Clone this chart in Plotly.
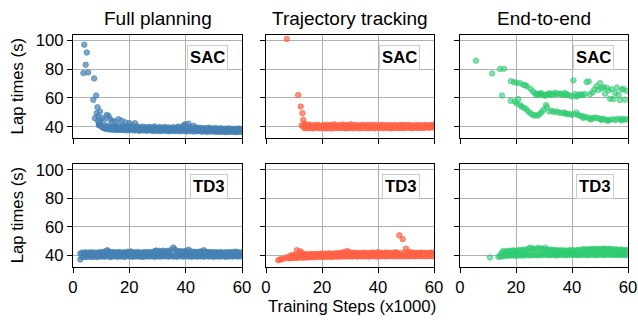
import plotly.graph_objects as go
from plotly.subplots import make_subplots

# ---------------- data ----------------
col_titles = ["Full planning", "Trajectory tracking", "End-to-end"]
row_algos = ["SAC", "TD3"]
x_ticks = [0, 20, 40, 60]
y_ticks = [40, 60, 80, 100]

# Full planning / SAC
fp_sac_early_x = [3.7, 4.0, 4.5, 4.9, 5.4, 7.5, 7.2, 8.2, 8.4, 8.7,
                  7.8, 9.0, 9.6, 10.3, 11.0, 12.0, 12.6, 13.2, 14.0, 15.0,
                  16.1, 17.3, 18.5, 20.0, 22.0, 8.9, 9.3]
fp_sac_early_y = [77.3, 97.1, 83.1, 91.7, 77.8, 73.6, 58.7, 61.7, 49.4, 53.6,
                  45.9, 47.0, 50.5, 46.0, 44.5, 48.2, 47.5, 45.2, 44.0, 43.5,
                  45.2, 44.2, 43.0, 42.5, 42.4, 44.0, 42.5]
fp_sac_x = [9.2, 9.8, 10.4, 11.0, 11.6, 12.2, 12.8, 13.4, 14.0, 14.6,
            15.2, 15.8, 16.4, 17.0, 17.6, 18.2, 18.8, 19.4, 20.0, 20.6,
            21.2, 21.8, 22.4, 23.0, 23.6, 24.2, 24.8, 25.4, 26.0, 26.6,
            27.2, 27.8, 28.4, 29.0, 29.6, 30.2, 30.8, 31.4, 32.0, 32.6,
            33.2, 33.8, 34.4, 35.0, 35.6, 36.2, 36.8, 37.4, 38.0, 38.6,
            39.2, 39.8, 40.4, 41.0, 41.6, 42.2, 42.8, 43.4, 44.0, 44.6,
            45.2, 45.8, 46.4, 47.0, 47.6, 48.2, 48.8, 49.4, 50.0, 50.6,
            51.2, 51.8, 52.4, 53.0, 53.6, 54.2, 54.8, 55.4, 56.0, 56.6,
            57.2, 57.8, 58.4, 59.0, 59.6]
fp_sac_hi = [41.0, 40.6, 40.2, 39.8, 40.5, 39.6, 40.9, 39.4, 40.1, 39.7,
             40.3, 39.5, 40.8, 39.2, 39.9, 40.4, 39.1, 39.8, 40.2, 39.3,
             40.6, 39.0, 39.7, 40.1, 38.9, 39.5, 40.0, 38.8, 39.6, 39.2,
             39.9, 38.7, 39.4, 40.2, 38.9, 39.1, 39.7, 38.6, 39.3, 39.8,
             38.8, 39.5, 39.0, 38.6, 39.7, 38.9, 39.2, 40.1, 38.7, 39.4,
             40.8, 41.6, 39.5, 42.1, 39.8, 39.0, 40.6, 38.9, 39.4, 38.7,
             39.2, 38.6, 39.0, 38.4, 38.9, 39.3, 38.5, 38.8, 38.3, 39.0,
             38.6, 38.2, 38.9, 38.4, 38.0, 38.7, 38.3, 38.8, 38.1, 38.5,
             38.0, 38.6, 38.2, 38.7, 38.3]
fp_sac_lo = [41.5, 40.8, 39.5, 38.9, 38.6, 38.2, 38.5, 37.9, 38.3, 37.8,
             38.1, 37.6, 38.4, 37.7, 38.0, 37.5, 38.2, 37.4, 37.9, 37.6,
             38.0, 37.3, 37.8, 37.5, 37.1, 37.7, 37.4, 37.9, 37.2, 37.6,
             37.3, 37.8, 37.0, 37.5, 37.2, 37.7, 36.9, 37.4, 37.1, 37.6,
             37.2, 36.8, 37.5, 37.0, 37.3, 36.9, 37.6, 37.1, 36.8, 37.4,
             37.0, 37.5, 36.7, 37.2, 36.9, 37.4, 36.6, 37.1, 36.8, 37.3,
             36.9, 36.5, 37.2, 36.8, 36.4, 37.0, 36.6, 37.1, 36.5, 36.9,
             36.4, 36.8, 36.3, 36.9, 36.5, 36.2, 36.7, 36.4, 36.8, 36.3,
             36.6, 36.2, 36.7, 36.4, 36.5]

# Trajectory tracking / SAC
tt_sac_early_x = [7.4, 11.5, 12.4, 13.0, 13.3, 12.7, 13.8]
tt_sac_early_y = [101.1, 62.0, 54.0, 49.4, 44.7, 40.8, 42.0]
tt_sac_x = [13.6, 14.2, 14.8, 15.4, 16.0, 16.6, 17.2, 17.8, 18.4, 19.0,
            19.6, 20.2, 20.8, 21.4, 22.0, 22.6, 23.2, 23.8, 24.4, 25.0,
            25.6, 26.2, 26.8, 27.4, 28.0, 28.6, 29.2, 29.8, 30.4, 31.0,
            31.6, 32.2, 32.8, 33.4, 34.0, 34.6, 35.2, 35.8, 36.4, 37.0,
            37.6, 38.2, 38.8, 39.4, 40.0, 40.6, 41.2, 41.8, 42.4, 43.0,
            43.6, 44.2, 44.8, 45.4, 46.0, 46.6, 47.2, 47.8, 48.4, 49.0,
            49.6, 50.2, 50.8, 51.4, 52.0, 52.6, 53.2, 53.8, 54.4, 55.0,
            55.6, 56.2, 56.8, 57.4, 58.0, 58.6, 59.2, 59.8]
tt_sac_hi = [40.6, 41.2, 40.4, 41.5, 40.8, 40.3, 41.1, 40.5, 41.3, 40.7,
             40.2, 41.0, 40.6, 41.4, 40.4, 40.9, 41.2, 40.5, 41.6, 40.8,
             40.3, 41.1, 40.7, 41.5, 40.4, 41.3, 40.6, 41.0, 41.7, 40.5,
             40.9, 41.2, 40.4, 41.0, 40.7, 41.3, 40.5, 40.9, 41.1, 40.4,
             41.4, 40.6, 40.9, 41.2, 40.5, 41.0, 40.7, 41.3, 40.6, 40.9,
             41.1, 40.4, 41.0, 40.7, 41.2, 40.5, 40.8, 41.1, 40.6, 41.3,
             40.5, 40.9, 41.2, 40.6, 41.0, 40.4, 40.8, 41.1, 40.7, 41.0,
             40.5, 40.9, 41.2, 40.6, 40.9, 41.1, 40.7, 41.3]
tt_sac_lo = [39.2, 38.9, 39.5, 39.0, 39.4, 38.8, 39.3, 39.6, 39.0, 39.4,
             38.9, 39.5, 39.1, 38.8, 39.4, 39.2, 38.7, 39.5, 39.0, 39.3,
             39.6, 38.9, 39.2, 39.5, 39.0, 38.8, 39.4, 39.1, 39.6, 38.9,
             39.3, 39.0, 39.5, 38.8, 39.2, 39.6, 39.0, 39.4, 38.9, 39.3,
             39.1, 39.5, 38.8, 39.2, 39.6, 39.0, 39.4, 38.9, 39.3, 39.5,
             39.0, 39.4, 38.8, 39.2, 39.6, 39.1, 39.3, 38.9, 39.5, 39.2,
             39.0, 39.4, 39.6, 39.1, 38.9, 39.5, 39.2, 39.6, 39.0, 39.3,
             39.5, 39.1, 39.4, 39.7, 39.2, 39.5, 39.8, 39.4]

# End-to-end / SAC (two branches)
e2e_sac_up_x = [5.7, 11.5, 14.3, 15.7, 18.2, 19.3, 20.2, 21.4, 22.6, 23.3,
                24.0, 25.2, 26.0, 26.8, 27.7, 28.6, 29.5, 30.4, 31.2, 32.1,
                33.0, 33.9, 34.8, 35.7, 36.6, 37.4, 38.1, 39.0, 39.8, 40.5,
                41.2, 42.0, 42.9, 43.8, 44.6, 45.2, 46.0, 46.4, 47.3, 48.0,
                48.8, 49.4, 50.0, 50.6, 51.2, 51.8, 52.4, 53.0, 53.6, 54.2,
                54.8, 55.4, 56.0, 56.6, 57.1, 57.8, 58.3, 58.9, 59.5, 41.5,
                27.2, 28.1, 29.0, 30.0, 31.7, 32.6, 34.3, 36.2, 37.8, 43.3]
e2e_sac_up_y = [86.0, 77.1, 80.1, 80.3, 71.7, 71.0, 70.6, 70.3, 69.2, 68.8,
                68.0, 66.4, 64.5, 63.3, 62.8, 63.0, 62.2, 61.5, 62.6, 63.3,
                62.4, 63.7, 62.9, 63.0, 62.1, 63.5, 62.5, 61.8, 61.1, 72.2,
                62.7, 61.6, 62.5, 61.9, 62.8, 71.1, 71.5, 62.5, 63.8, 66.0,
                68.2, 65.5, 70.3, 66.8, 67.6, 63.0, 67.1, 65.2, 59.5, 66.1,
                59.2, 63.5, 67.2, 62.0, 58.5, 65.8, 66.4, 58.8, 65.0, 61.0,
                62.0, 62.3, 63.2, 62.0, 62.7, 62.3, 62.6, 62.8, 62.4, 62.3]
e2e_sac_lo_x = [15.0, 18.1, 19.6, 20.2, 20.8, 21.5, 22.0, 22.8, 23.6, 24.3,
                25.1, 25.8, 26.5, 27.2, 27.9, 28.6, 29.2, 29.8, 30.7, 31.0,
                31.9, 32.8, 33.6, 34.5, 35.4, 36.3, 37.2, 38.1, 39.0, 39.8,
                40.6, 41.5, 42.1, 42.7, 43.6, 44.5, 45.4, 46.2, 47.0, 47.8,
                48.6, 49.4, 50.2, 51.0, 51.8, 52.7, 53.5, 54.6, 55.4, 56.3,
                57.2, 58.1, 59.0, 59.7, 44.0, 46.8, 50.6, 53.0, 57.7, 37.6]
e2e_sac_lo_y = [61.7, 58.0, 57.5, 56.3, 59.2, 55.0, 54.0, 53.2, 52.3, 50.8,
                49.4, 48.5, 47.7, 47.9, 47.7, 49.0, 50.3, 51.7, 55.0, 53.6,
                50.6, 51.1, 50.2, 50.5, 49.8, 49.4, 49.9, 48.8, 48.9, 48.3,
                48.6, 49.9, 48.2, 47.7, 47.3, 46.9, 46.5, 45.5, 46.0, 46.2,
                46.2, 45.8, 45.2, 45.5, 45.0, 44.1, 44.8, 45.2, 44.6, 45.5,
                45.0, 45.5, 44.8, 45.3, 46.0, 45.0, 44.6, 44.5, 44.3, 49.2]

# Full planning / TD3
fp_td3_x = [2.6, 3.2, 3.8, 4.4, 5.0, 5.6, 6.2, 6.8, 7.4, 8.0,
            8.6, 9.2, 9.8, 10.4, 11.0, 11.6, 12.2, 12.8, 13.4, 14.0,
            14.6, 15.2, 15.8, 16.4, 17.0, 17.6, 18.2, 18.8, 19.4, 20.0,
            20.6, 21.2, 21.8, 22.4, 23.0, 23.6, 24.2, 24.8, 25.4, 26.0,
            26.6, 27.2, 27.8, 28.4, 29.0, 29.6, 30.2, 30.8, 31.4, 32.0,
            32.6, 33.2, 33.8, 34.4, 35.0, 35.6, 36.2, 36.8, 37.4, 38.0,
            38.6, 39.2, 39.8, 40.4, 41.0, 41.6, 42.2, 42.8, 43.4, 44.0,
            44.6, 45.2, 45.8, 46.4, 47.0, 47.6, 48.2, 48.8, 49.4, 50.0,
            50.6, 51.2, 51.8, 52.4, 53.0, 53.6, 54.2, 54.8, 55.4, 56.0,
            56.6, 57.2, 57.8, 58.4, 59.0, 59.6]
fp_td3_hi = [41.2, 41.8, 41.5, 42.0, 41.3, 41.9, 41.6, 42.1, 41.4, 41.8,
             41.5, 42.0, 41.7, 42.3, 41.6, 42.8, 43.5, 42.4, 41.9, 42.2,
             41.7, 42.0, 41.6, 42.3, 41.8, 41.5, 42.1, 41.7, 42.4, 41.9,
             42.6, 41.8, 42.0, 41.6, 42.2, 41.9, 41.5, 42.0, 41.7, 42.3,
             41.8, 42.1, 41.6, 42.2, 42.9, 43.3, 42.5, 43.0, 42.4, 43.2,
             42.7, 42.2, 43.1, 42.6, 43.8, 45.4, 44.0, 42.8, 42.3, 42.9,
             42.1, 42.6, 43.0, 42.4, 43.9, 42.7, 42.2, 42.5, 41.9, 42.3,
             42.0, 42.6, 42.2, 43.5, 42.4, 42.0, 41.8, 42.3, 41.9, 42.1,
             41.7, 42.0, 41.6, 42.2, 41.8, 41.5, 42.1, 41.7, 42.0, 41.6,
             42.3, 41.8, 42.5, 42.0, 41.7, 41.9]
fp_td3_lo = [37.0, 38.8, 39.3, 38.6, 39.5, 38.9, 39.2, 38.7, 39.4, 39.0,
             38.8, 39.3, 39.0, 39.5, 38.9, 39.2, 39.6, 39.0, 38.8, 39.4,
             39.1, 39.5, 38.9, 39.3, 39.0, 39.6, 38.8, 39.2, 39.5, 39.0,
             39.3, 38.9, 39.4, 39.1, 39.6, 39.0, 39.2, 38.8, 39.5, 39.1,
             39.4, 39.0, 39.6, 39.2, 38.9, 39.5, 39.1, 39.4, 39.0, 39.6,
             39.2, 39.5, 39.0, 39.3, 39.7, 39.1, 39.4, 38.9, 39.5, 39.2,
             39.6, 39.0, 39.3, 39.5, 39.1, 39.4, 38.9, 39.6, 39.2, 39.0,
             39.4, 39.1, 39.5, 38.9, 39.3, 39.6, 39.0, 39.4, 39.2, 38.9,
             39.5, 39.1, 39.3, 39.0, 39.6, 39.2, 38.9, 39.4, 39.1, 39.5,
             39.0, 39.3, 39.6, 39.1, 39.4, 39.2]

# Trajectory tracking / TD3
tt_td3_early_x = [4.4, 5.0, 5.6, 6.4, 7.4, 8.0]
tt_td3_early_y = [36.5, 37.0, 37.2, 37.6, 38.4, 37.8]
tt_td3_x = [8.6, 9.2, 9.8, 10.4, 11.0, 11.6, 12.2, 12.8, 13.4, 14.0,
            14.6, 15.2, 15.8, 16.4, 17.0, 17.6, 18.2, 18.8, 19.4, 20.0,
            20.6, 21.2, 21.8, 22.4, 23.0, 23.6, 24.2, 24.8, 25.4, 26.0,
            26.6, 27.2, 27.8, 28.4, 29.0, 29.6, 30.2, 30.8, 31.4, 32.0,
            32.6, 33.2, 33.8, 34.4, 35.0, 35.6, 36.2, 36.8, 37.4, 38.0,
            38.6, 39.2, 39.8, 40.4, 41.0, 41.6, 42.2, 42.8, 43.4, 44.0,
            44.6, 45.2, 45.8, 46.4, 47.0, 47.6, 48.2, 48.8, 49.4, 50.0,
            50.6, 51.2, 51.8, 52.4, 53.0, 53.6, 54.2, 54.8, 55.4, 56.0,
            56.6, 57.2, 57.8, 58.4, 59.0, 59.6]
tt_td3_hi = [39.4, 40.0, 39.6, 40.2, 43.5, 41.0, 42.8, 41.6, 40.9, 40.4,
             40.7, 40.2, 40.9, 40.5, 40.8, 40.3, 41.0, 40.6, 40.9, 41.2,
             40.7, 41.0, 40.8, 41.3, 40.9, 41.1, 40.7, 41.4, 41.0, 41.6,
             41.2, 41.8, 42.2, 41.6, 43.0, 42.0, 41.5, 41.9, 41.3, 41.7,
             41.2, 41.6, 41.0, 41.4, 41.8, 41.3, 41.6, 41.1, 41.5, 41.9,
             41.4, 41.7, 42.0, 41.5, 41.8, 41.2, 41.6, 41.9, 41.4, 41.7,
             41.2, 41.8, 41.5, 42.0, 41.6, 54.0, 41.4, 51.3, 41.8, 44.6,
             42.2, 41.6, 42.0, 41.5, 41.8, 41.3, 41.7, 41.4, 41.9, 41.5,
             41.2, 41.8, 41.4, 41.6, 41.9, 41.5]
tt_td3_lo = [37.9, 38.2, 38.0, 38.4, 38.1, 38.5, 38.3, 38.6, 38.2, 38.7,
             38.4, 38.8, 38.5, 38.9, 38.6, 38.8, 39.0, 38.7, 39.1, 38.8,
             39.0, 38.7, 39.2, 38.9, 39.1, 38.8, 39.3, 39.0, 39.2, 38.9,
             39.4, 39.1, 39.3, 39.0, 39.5, 39.2, 39.4, 39.1, 39.6, 39.3,
             39.0, 39.4, 39.2, 39.5, 39.1, 39.6, 39.3, 39.0, 39.5, 39.2,
             39.6, 39.3, 39.1, 39.5, 39.2, 39.7, 39.4, 39.1, 39.6, 39.3,
             39.5, 39.2, 39.7, 39.4, 39.1, 39.6, 39.3, 39.5, 39.2, 39.7,
             39.4, 39.1, 39.6, 39.3, 39.5, 39.2, 39.7, 39.4, 39.6, 39.3,
             39.5, 39.2, 39.7, 39.4, 39.6, 39.3]

# End-to-end / TD3
e2e_td3_early_x = [10.7, 13.7, 14.3]
e2e_td3_early_y = [38.4, 38.8, 39.6]
e2e_td3_x = [14.8, 15.4, 16.0, 16.6, 17.2, 17.8, 18.4, 19.0, 19.6, 20.2,
             20.8, 21.4, 22.0, 22.6, 23.2, 23.8, 24.4, 25.0, 25.6, 26.2,
             26.8, 27.4, 28.0, 28.6, 29.2, 29.8, 30.4, 31.0, 31.6, 32.2,
             32.8, 33.4, 34.0, 34.6, 35.2, 35.8, 36.4, 37.0, 37.6, 38.2,
             38.8, 39.4, 40.0, 40.6, 41.2, 41.8, 42.4, 43.0, 43.6, 44.2,
             44.8, 45.4, 46.0, 46.6, 47.2, 47.8, 48.4, 49.0, 49.6, 50.2,
             50.8, 51.4, 52.0, 52.6, 53.2, 53.8, 54.4, 55.0, 55.6, 56.2,
             56.8, 57.4, 58.0, 58.6, 59.2, 59.8]
e2e_td3_hi = [41.5, 43.0, 42.2, 42.8, 42.5, 43.2, 42.6, 43.4, 42.8, 43.1,
              43.6, 42.9, 43.8, 43.2, 44.0, 43.5, 44.4, 45.3, 44.2, 44.8,
              43.9, 44.5, 45.2, 44.1, 44.7, 43.8, 45.3, 44.2, 43.6, 44.0,
              43.3, 43.8, 43.1, 43.6, 42.9, 43.4, 43.0, 43.5, 42.8, 43.3,
              43.0, 43.6, 43.1, 43.5, 42.9, 43.4, 43.8, 43.2, 43.9, 44.3,
              43.6, 44.1, 43.7, 44.4, 43.9, 44.6, 44.0, 44.3, 43.8, 44.5,
              44.0, 44.7, 44.2, 44.5, 44.0, 44.6, 44.1, 43.7, 44.2, 43.8,
              43.5, 44.0, 43.6, 43.2, 43.7, 43.3]
e2e_td3_lo = [39.0, 39.5, 40.0, 39.4, 40.2, 39.6, 40.3, 39.7, 40.1, 39.5,
              40.4, 39.8, 40.2, 39.6, 40.5, 39.9, 40.3, 39.7, 40.6, 40.0,
              40.4, 39.8, 40.5, 39.9, 40.3, 40.7, 40.1, 40.5, 39.9, 40.4,
              40.0, 40.6, 40.2, 39.8, 40.5, 40.1, 40.7, 40.3, 39.9, 40.6,
              40.2, 40.8, 40.4, 40.0, 40.6, 40.2, 39.9, 40.5, 40.1, 40.7,
              40.3, 39.9, 40.6, 40.2, 40.8, 40.4, 40.0, 40.5, 40.1, 40.7,
              40.3, 40.0, 40.6, 40.2, 40.8, 40.4, 40.1, 40.5, 40.2, 40.7,
              40.3, 40.0, 40.6, 40.2, 40.5, 40.1]

# ---------------- styling ----------------
FONT = "Liberation Sans, Arial, Helvetica, sans-serif"
FS = 16.7
FS_TITLE = 19
col_colors = [(70, 130, 180), (255, 99, 71), (46, 204, 113)]
col_alpha = [0.7, 0.7, 0.6]

x_domains = [[73 / 638, 242 / 638], [266 / 638, 434 / 638], [460 / 638, 628 / 638]]
y_domains = [[(320 - 138.3) / 320, (320 - 34.5) / 320],
             [(320 - 266.7) / 320, (320 - 164) / 320]]
y_range = [31.9, 104.2]
x_range = [0, 60]

fig = make_subplots(rows=2, cols=3)

panels = {
    (1, 1): [(fp_sac_x, fp_sac_hi), (fp_sac_x, fp_sac_lo), (fp_sac_early_x, fp_sac_early_y)],
    (1, 2): [(tt_sac_x, tt_sac_hi), (tt_sac_x, tt_sac_lo), (tt_sac_early_x, tt_sac_early_y)],
    (1, 3): [(e2e_sac_up_x, e2e_sac_up_y), (e2e_sac_lo_x, e2e_sac_lo_y)],
    (2, 1): [(fp_td3_x, fp_td3_hi), (fp_td3_x, fp_td3_lo)],
    (2, 2): [(tt_td3_x, tt_td3_hi), (tt_td3_x, tt_td3_lo), (tt_td3_early_x, tt_td3_early_y)],
    (2, 3): [(e2e_td3_x, e2e_td3_hi), (e2e_td3_x, e2e_td3_lo), (e2e_td3_early_x, e2e_td3_early_y)],
}

for (r, c), series in panels.items():
    rgb = col_colors[c - 1]
    a = col_alpha[c - 1]
    rgba = f"rgba({rgb[0]},{rgb[1]},{rgb[2]},{a})"
    for xs, ys in series:
        fig.add_trace(go.Scatter(
            x=xs, y=ys, mode="markers", showlegend=False, hoverinfo="skip",
            marker=dict(size=5.5, color=rgba, line=dict(color=rgba, width=1)),
        ), row=r, col=c)

for r in (1, 2):
    for c in (1, 2, 3):
        idx = (r - 1) * 3 + c
        sfx = "" if idx == 1 else str(idx)
        common = dict(showline=True, linecolor="black", linewidth=1.2, mirror=True,
                      ticks="outside", ticklen=5, tickwidth=1.2, tickcolor="black",
                      showgrid=True, gridcolor="#b0b0b0", gridwidth=1.3,
                      zeroline=False, automargin=False,
                      tickfont=dict(family=FONT, size=FS, color="black"))
        fig.layout["xaxis" + sfx].update(domain=x_domains[c - 1], range=x_range,
                                         tickvals=x_ticks, showticklabels=(r == 2), **common)
        fig.layout["yaxis" + sfx].update(domain=y_domains[r - 1], range=y_range,
                                         tickvals=y_ticks, showticklabels=(c == 1), **common)
        # legend-like box
        fig.add_annotation(xref=f"x{sfx} domain", yref=f"y{sfx} domain",
                           x=1 - 14 / 169, y=1 - 10 / 103, xanchor="right", yanchor="top",
                           text=f"<b>{row_algos[r - 1]}</b>", showarrow=False,
                           font=dict(family=FONT, size=FS, color="black"),
                           bgcolor="rgba(255,255,255,0.85)", bordercolor="#cccccc",
                           borderwidth=1, borderpad=2)

# column titles
for c in range(3):
    xc = (x_domains[c][0] + x_domains[c][1]) / 2
    fig.add_annotation(xref="paper", yref="paper", x=xc, y=(320 - 19) / 320,
                       xanchor="center", yanchor="middle", text=col_titles[c],
                       showarrow=False, font=dict(family=FONT, size=FS_TITLE, color="black"))

# y-axis titles
for r in range(2):
    yc = (y_domains[r][0] + y_domains[r][1]) / 2
    fig.add_annotation(xref="paper", yref="paper", x=17 / 638, y=yc,
                       xanchor="center", yanchor="middle", text="Lap times (s)",
                       textangle=-90, showarrow=False,
                       font=dict(family=FONT, size=FS, color="black"))

# x-axis title
fig.add_annotation(xref="paper", yref="paper", x=352 / 638, y=(320 - 306) / 320,
                   xanchor="center", yanchor="middle", text="Training Steps (x1000)",
                   showarrow=False, font=dict(family=FONT, size=FS, color="black"))

fig.update_layout(width=638, height=320, margin=dict(l=0, r=0, t=0, b=0),
                  paper_bgcolor="white", plot_bgcolor="white",
                  font=dict(family=FONT, size=FS, color="black"))

fig.write_html("out.html", config={"displayModeBar": False},
               post_script="document.body.style.margin='0';document.body.style.overflow='hidden';")
